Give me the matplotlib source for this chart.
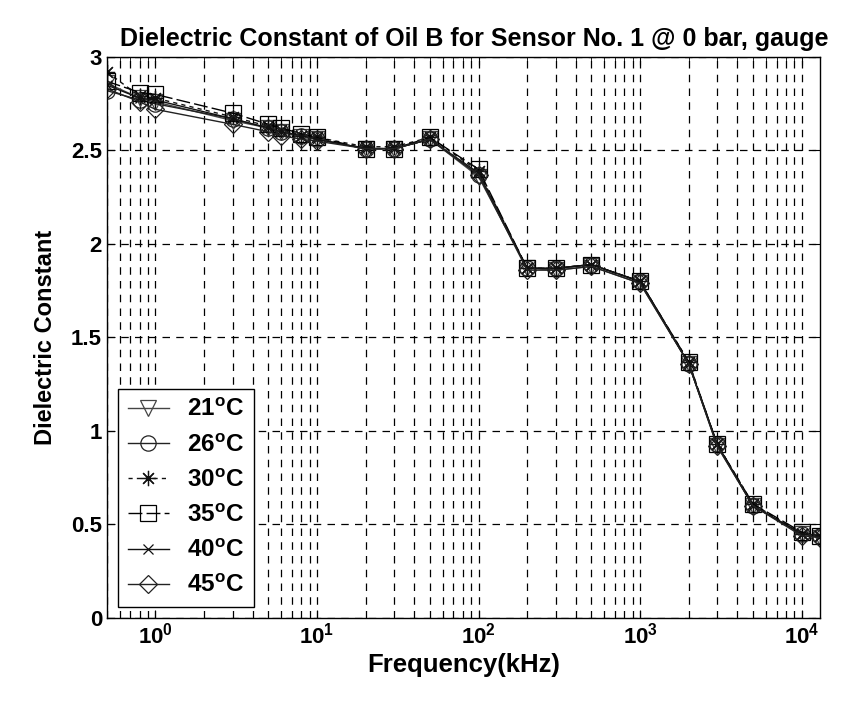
import matplotlib
matplotlib.use("Agg")
import matplotlib.pyplot as plt
from matplotlib.ticker import FormatStrFormatter, LogLocator, FixedLocator

plt.rcParams['font.family'] = ['Liberation Sans', 'DejaVu Sans']
plt.rcParams['mathtext.fontset'] = 'custom'
plt.rcParams['mathtext.rm'] = 'Liberation Sans:bold'
plt.rcParams['mathtext.bf'] = 'Liberation Sans:bold'
plt.rcParams['mathtext.default'] = 'bf'

freq_khz = [0.5, 0.8, 1, 3, 5, 6, 8, 10, 20, 30, 50, 100, 200, 300, 500, 1000, 2000, 3000, 5000, 10000, 13000]

eps_21C = [2.86, 2.78, 2.76, 2.66, 2.62, 2.60, 2.57, 2.56, 2.51, 2.51, 2.56, 2.36, 1.87, 1.86, 1.88, 1.79, 1.36, 0.92, 0.60, 0.45, 0.43]
eps_26C = [2.82, 2.77, 2.75, 2.67, 2.62, 2.60, 2.58, 2.56, 2.51, 2.51, 2.56, 2.37, 1.87, 1.87, 1.89, 1.80, 1.36, 0.93, 0.60, 0.45, 0.44]
eps_30C = [2.92, 2.79, 2.78, 2.68, 2.63, 2.61, 2.58, 2.57, 2.52, 2.52, 2.57, 2.39, 1.87, 1.87, 1.89, 1.80, 1.37, 0.93, 0.61, 0.45, 0.44]
eps_35C = [2.87, 2.81, 2.80, 2.70, 2.64, 2.62, 2.59, 2.57, 2.51, 2.51, 2.57, 2.40, 1.87, 1.87, 1.89, 1.80, 1.37, 0.93, 0.61, 0.46, 0.44]
eps_40C = [2.85, 2.78, 2.77, 2.67, 2.62, 2.60, 2.58, 2.56, 2.51, 2.51, 2.56, 2.38, 1.87, 1.87, 1.89, 1.80, 1.36, 0.93, 0.60, 0.45, 0.44]
eps_45C = [2.83, 2.76, 2.72, 2.64, 2.60, 2.58, 2.56, 2.55, 2.51, 2.51, 2.56, 2.37, 1.86, 1.86, 1.88, 1.79, 1.36, 0.92, 0.60, 0.44, 0.43]

labels = [r'21$^{\mathbf{o}}$C', r'26$^{\mathbf{o}}$C', r'30$^{\mathbf{o}}$C',
          r'35$^{\mathbf{o}}$C', r'40$^{\mathbf{o}}$C', r'45$^{\mathbf{o}}$C']
series = [eps_21C, eps_26C, eps_30C, eps_35C, eps_40C, eps_45C]
markers = ['v', 'o', (8, 2, 0), 's', 'x', 'D']
styles = ['-', '-', (0, (3, 3)), (0, (10, 3)), '-', '-']
msizes = [11, 11, 11, 11, 7, 9]
colors = ['#444444', '#222222', '#111111', '#000000', '#111111', '#222222']

fig = plt.figure(figsize=(8.55, 7.02), dpi=100)
ax = fig.add_axes([0.125, 0.1197, 0.834, 0.7991])

for y, lab, m, ls, ms, c in zip(series, labels, markers, styles, msizes, colors):
    ax.plot(freq_khz, y, linestyle=ls, marker=m, markersize=ms, color=c,
            markerfacecolor='none', markeredgecolor=c, linewidth=1.0,
            markeredgewidth=0.9, label=lab)

ax.set_xscale('log')
ax.set_xlim(0.5, 13000)
ax.set_ylim(0, 3)
ax.yaxis.set_major_locator(FixedLocator([0, 0.5, 1, 1.5, 2, 2.5, 3]))
ax.yaxis.set_major_formatter(FormatStrFormatter('%g'))
ax.xaxis.set_major_locator(LogLocator(base=10, numticks=10))
ax.xaxis.set_minor_locator(LogLocator(base=10, subs=range(2, 10), numticks=20))

ax.grid(True, which='major', color='black', linestyle=(0, (6, 5)), linewidth=0.9)
ax.grid(True, which='minor', axis='x', color='black', linestyle=(0, (6, 5)), linewidth=0.9)
ax.tick_params(which='both', direction='in', top=True, right=True)
ax.tick_params(which='major', length=6, labelsize=16)
ax.tick_params(which='minor', length=3)
for lbl in ax.get_xticklabels() + ax.get_yticklabels():
    lbl.set_fontweight('bold')
for sp in ax.spines.values():
    sp.set_linewidth(1.0)

ax.set_title('Dielectric Constant of Oil B for Sensor No. 1 @ 0 bar, gauge',
             fontsize=18, fontweight='bold', pad=8, x=0.515)
ax.set_xlabel('Frequency(kHz)', fontsize=18.5, fontweight='bold', labelpad=3)
ax.set_ylabel('Dielectric Constant', fontsize=17, fontweight='bold', labelpad=10)

leg = ax.legend(loc='lower left', bbox_to_anchor=(0.0154, 0.0196), borderaxespad=0,
                prop={'weight': 'bold', 'size': 17.5},
                frameon=True, fancybox=False, edgecolor='black', framealpha=1,
                handlelength=1.7, handletextpad=0.75, labelspacing=0.5, borderpad=0.4)
leg.get_frame().set_linewidth(1.0)

fig.savefig('out.png', dpi=100)
